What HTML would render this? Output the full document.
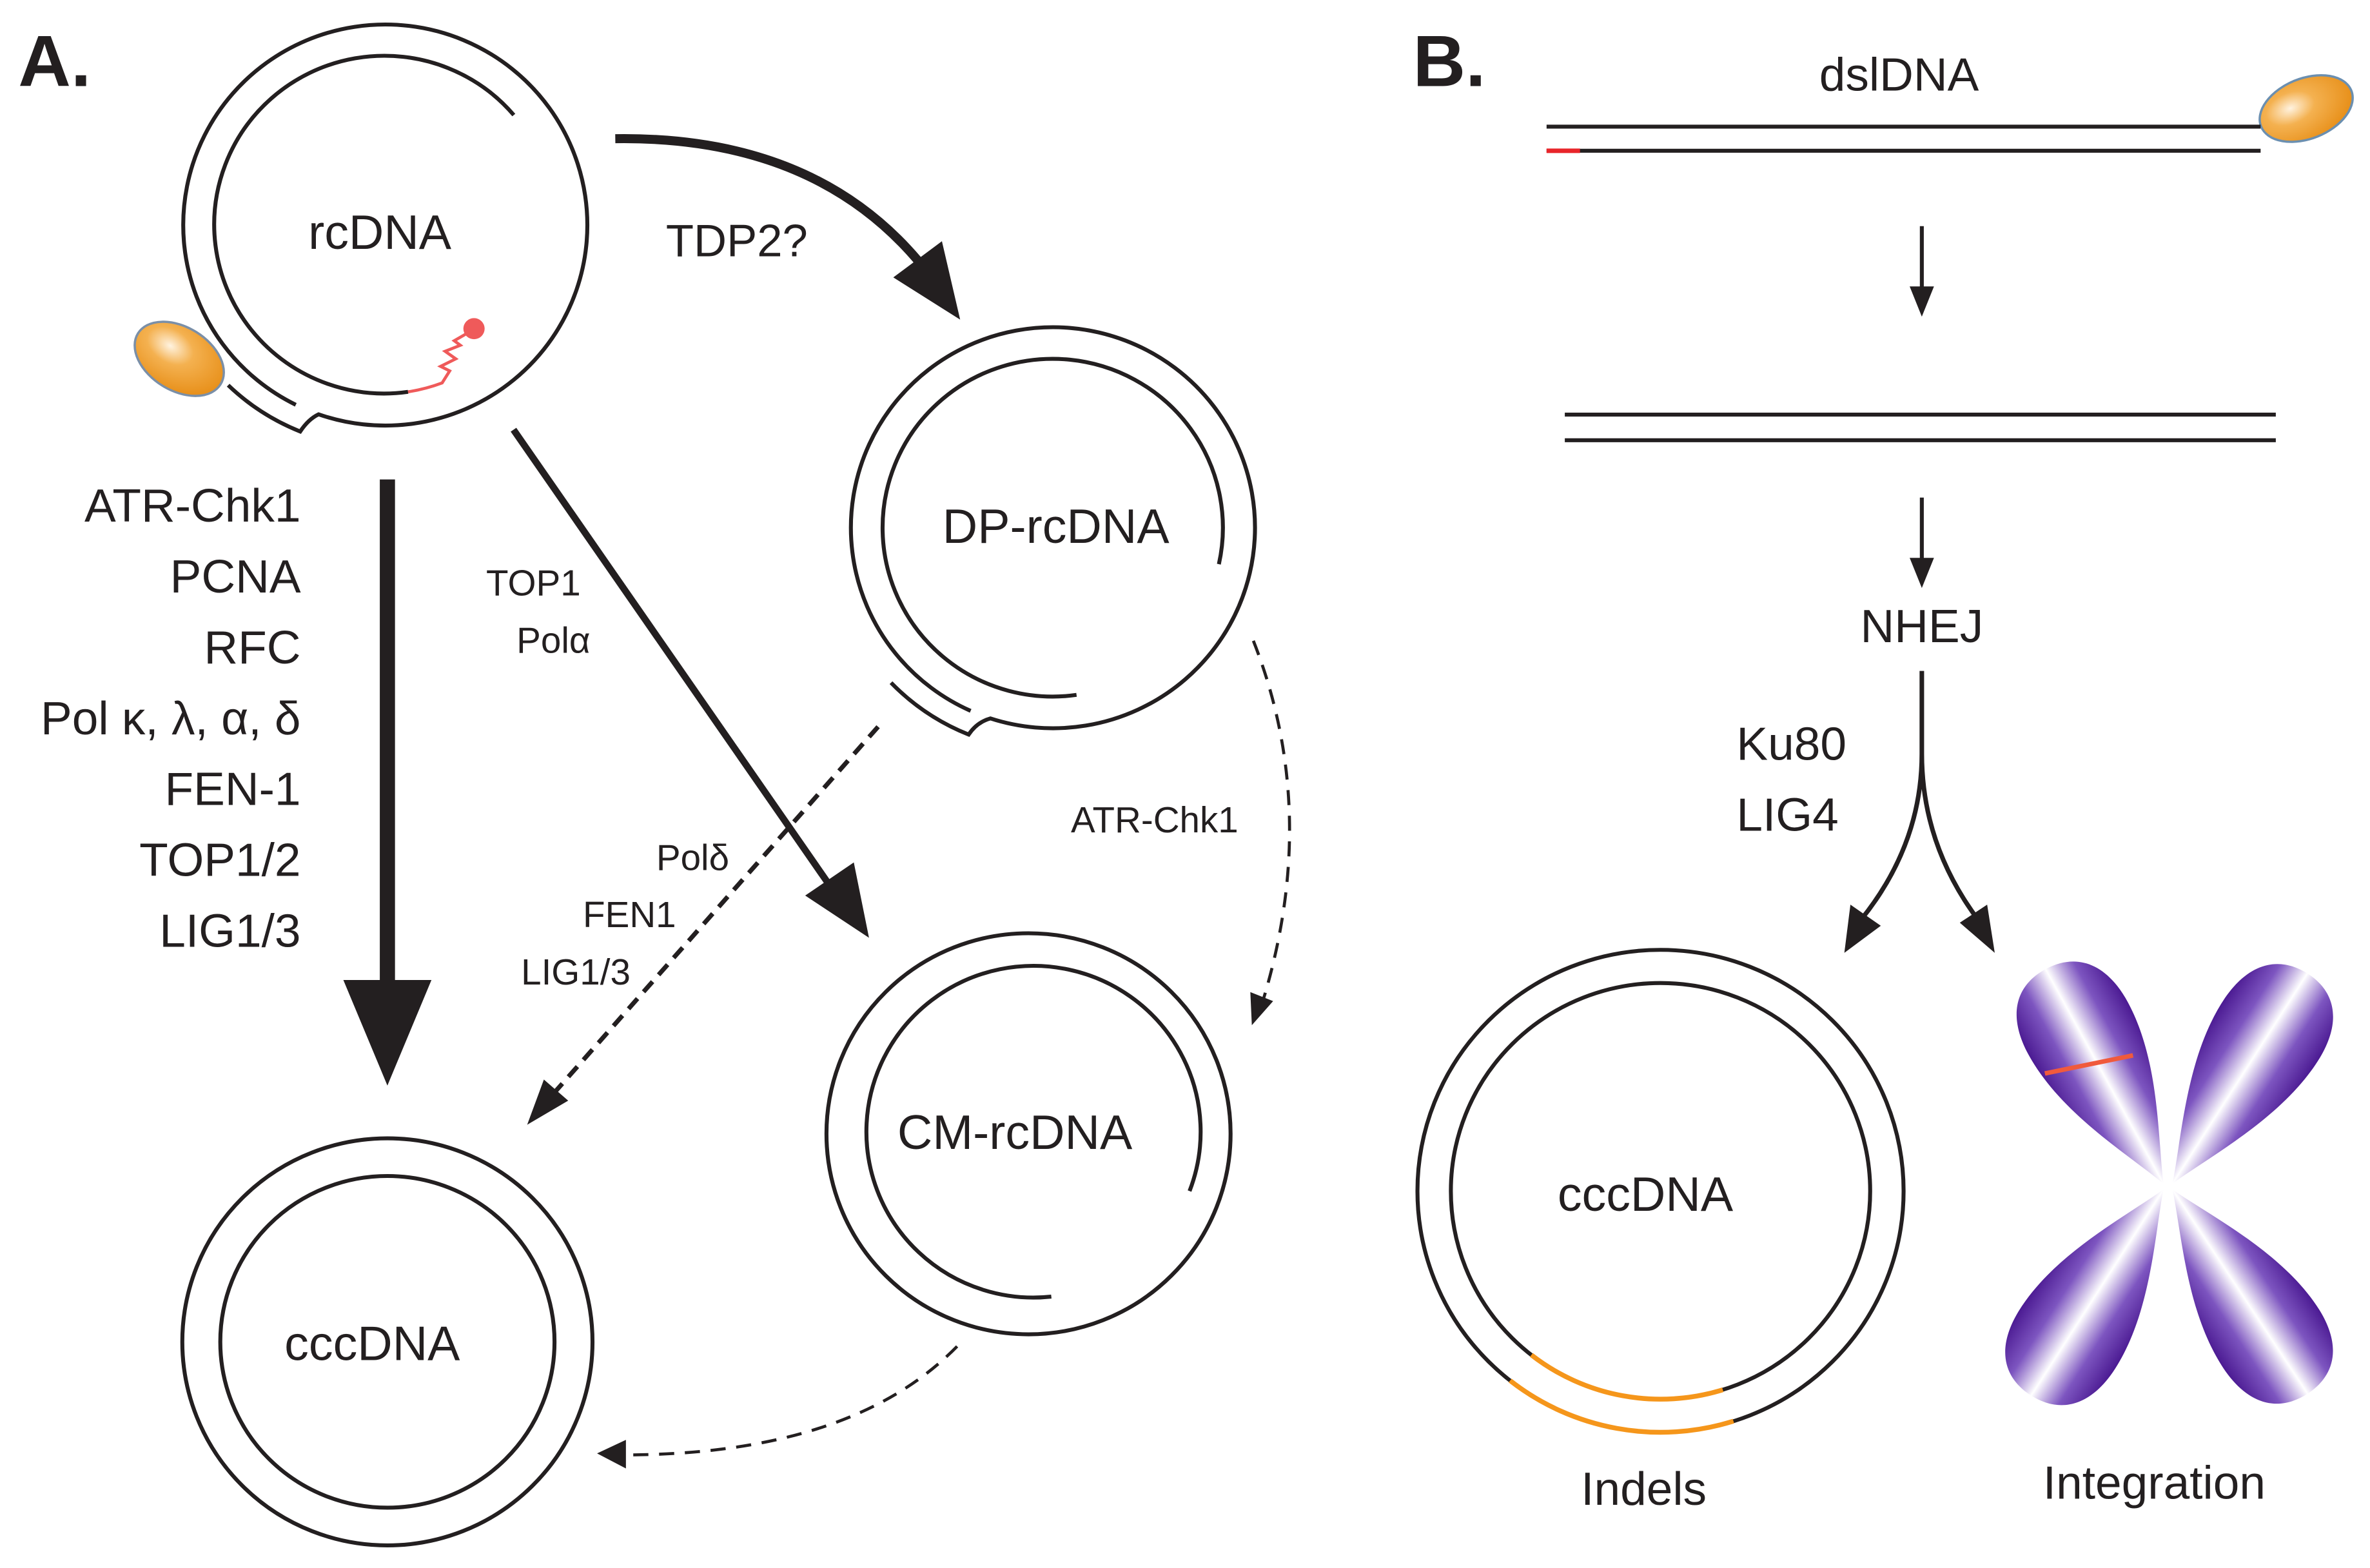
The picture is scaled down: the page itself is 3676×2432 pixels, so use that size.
<!DOCTYPE html>
<html><head><meta charset="utf-8"><style>
html,body{margin:0;padding:0;background:#fff;}
svg{display:block;}
text{font-family:"Liberation Sans","DejaVu Sans",sans-serif;fill:#231f20;}
</style></head><body>
<svg width="3676" height="2432" viewBox="0 0 1560 1040" preserveAspectRatio="none" xmlns="http://www.w3.org/2000/svg">
<defs>
<linearGradient id="lg" x1="0" y1="0" x2="1" y2="0"><stop offset="0" stop-color="#4b1a92"/><stop offset="0.25" stop-color="#7d55c0"/><stop offset="0.5" stop-color="#ffffff"/><stop offset="0.75" stop-color="#7d55c0"/><stop offset="1" stop-color="#4b1a92"/></linearGradient>
<radialGradient id="og" cx="35%" cy="40%" r="65%"><stop offset="0" stop-color="#fff3e0"/><stop offset="0.4" stop-color="#f4b150"/><stop offset="1" stop-color="#e8911c"/></radialGradient>
<path id="lobe" d="M0,0 C12,30 38,75 37,120 C36,150 20,162 0,162 C-20,162 -36,150 -37,120 C-38,75 -12,30 0,0 Z"/>
</defs>
<rect width="1560" height="1040" fill="#fff"/>
<g fill="none" stroke="#231f20" stroke-width="2.6">
<path d="M194.7,268.5 A133,133 0 1 1 209.7,274.8 Q203,278 197.6,286.2 A148,148 0 0 1 150.2,255.5"/>
<path d="M268.6,259.9 A112,112 0 1 1 338.2,76.3"/>
<path d="M638.9,471.5 A133,133 0 1 1 651.9,476.5 Q643,479 637.6,487.2 A148,148 0 0 1 586.5,452.8"/>
<path d="M708.6,460.9 A112,112 0 1 1 802.3,374.2"/>
<circle cx="677" cy="752" r="133"/>
<path d="M783,790 A110,110 0 1 0 692,860"/>
<circle cx="255" cy="890" r="135"/>
<circle cx="255" cy="890" r="110"/>
<circle cx="1093" cy="790" r="160"/>
<circle cx="1093" cy="790" r="138"/>
</g>
<path d="M1008,898.7 A138,138 0 0 0 1134,921.8" fill="none" stroke="#f5961b" stroke-width="3.2"/>
<path d="M994,915.7 A160,160 0 0 0 1141,942.6" fill="none" stroke="#f5961b" stroke-width="3.2"/>
<ellipse cx="118" cy="238" rx="32" ry="21" transform="rotate(32 118 238)" fill="url(#og)" stroke="#7a8fa8" stroke-width="1.5"/>
<ellipse cx="1518" cy="72" rx="32" ry="20" transform="rotate(-22 1518 72)" fill="url(#og)" stroke="#6b8fb0" stroke-width="1.5"/>
<path d="M268.6,259.9 A112,112 0 0 0 291,254 L296,246 L290,243 L300,238 L293,233 L303,229 L299,226 L311,219" fill="none" stroke="#ef5a5a" stroke-width="2"/>
<circle cx="312" cy="218" r="7" fill="#ef5a5a"/>
<path d="M405,92 Q540,90 610,180" fill="none" stroke="#231f20" stroke-width="6"/>
<path d="M632,212 L588,184 L620,160 z" fill="#231f20"/>
<line x1="255" y1="318" x2="255" y2="660" stroke="#231f20" stroke-width="10"/>
<path d="M255,720 L226,650 L284,650 z" fill="#231f20"/>
<line x1="338" y1="285" x2="548" y2="590" stroke="#231f20" stroke-width="4.5"/>
<path d="M572,622 L530,594 L562,572 z" fill="#231f20"/>
<line x1="578" y1="482" x2="362" y2="728" stroke="#231f20" stroke-width="3" stroke-dasharray="9,6"/>
<path d="M347,746 L358,716 L374,730 z" fill="#231f20"/>
<path d="M825,425 Q870,540 830,668" fill="none" stroke="#231f20" stroke-width="2" stroke-dasharray="10,7"/>
<path d="M824,680 L823,658 L838,664 z" fill="#231f20"/>
<path d="M630,893 Q560,965 410,965" fill="none" stroke="#231f20" stroke-width="2" stroke-dasharray="10,7"/>
<path d="M393,964 L412,955 L412,974 z" fill="#231f20"/>
<g stroke="#231f20" stroke-width="2.6">
<line x1="1018" y1="84" x2="1488" y2="84"/>
<line x1="1018" y1="100" x2="1488" y2="100"/>
<line x1="1030" y1="275" x2="1498" y2="275"/>
<line x1="1030" y1="292" x2="1498" y2="292"/>
<line x1="1265" y1="150" x2="1265" y2="195"/>
<line x1="1265" y1="330" x2="1265" y2="375"/>
</g>
<line x1="1018" y1="100" x2="1040" y2="100" stroke="#e8252a" stroke-width="3"/>
<path d="M1265,210 L1257,190 L1273,190 z" fill="#231f20"/>
<path d="M1265,390 L1257,370 L1273,370 z" fill="#231f20"/>
<path d="M1265,445 L1265,500 Q1265,560 1225,610 M1265,500 Q1265,560 1302,610" fill="none" stroke="#231f20" stroke-width="3"/>
<path d="M1214,632 L1218,600 L1238,614 z" fill="#231f20"/>
<path d="M1313,632 L1290,612 L1308,600 z" fill="#231f20"/>
<g fill="url(#lg)">
<use href="#lobe" transform="translate(1424,785) rotate(151.4)"/>
<use href="#lobe" transform="translate(1430,785) rotate(212.5) scale(1,1.02)"/>
<use href="#lobe" transform="translate(1424,789) rotate(32.5)"/>
<use href="#lobe" transform="translate(1430,789) rotate(-33.3)"/>
</g>
<line x1="1346" y1="712" x2="1404" y2="700" stroke="#f05a3c" stroke-width="3"/>
<text x="12" y="57" font-size="48" font-weight="bold">A.</text>
<text x="930" y="57" font-size="48" font-weight="bold">B.</text>
<text x="250" y="165" font-size="32" text-anchor="middle">rcDNA</text>
<text x="695" y="360" font-size="32" text-anchor="middle">DP-rcDNA</text>
<text x="668" y="762" font-size="32" text-anchor="middle">CM-rcDNA</text>
<text x="245" y="902" font-size="32" text-anchor="middle">cccDNA</text>
<text x="1083" y="803" font-size="32" text-anchor="middle">cccDNA</text>
<text x="485" y="170" font-size="30" text-anchor="middle">TDP2?</text>
<g font-size="31" text-anchor="end">
<text x="198" y="346">ATR-Chk1</text>
<text x="198" y="393">PCNA</text>
<text x="198" y="440">RFC</text>
<text x="198" y="487">Pol κ, λ, α, δ</text>
<text x="198" y="534">FEN-1</text>
<text x="198" y="581">TOP1/2</text>
<text x="198" y="628">LIG1/3</text>
</g>
<g font-size="24">
<text x="320" y="395">TOP1</text>
<text x="340" y="433">Polα</text>
<text x="480" y="577" text-anchor="end">Polδ</text>
<text x="445" y="615" text-anchor="end">FEN1</text>
<text x="415" y="653" text-anchor="end">LIG1/3</text>
<text x="760" y="552" text-anchor="middle">ATR-Chk1</text>
</g>
<text x="1250" y="60" font-size="31" text-anchor="middle">dslDNA</text>
<text x="1265" y="426" font-size="31" text-anchor="middle">NHEJ</text>
<text x="1143" y="504" font-size="31">Ku80</text>
<text x="1143" y="551" font-size="31">LIG4</text>
<text x="1082" y="998" font-size="31" text-anchor="middle">Indels</text>
<text x="1418" y="994" font-size="31" text-anchor="middle">Integration</text>
</svg>
</body></html>
